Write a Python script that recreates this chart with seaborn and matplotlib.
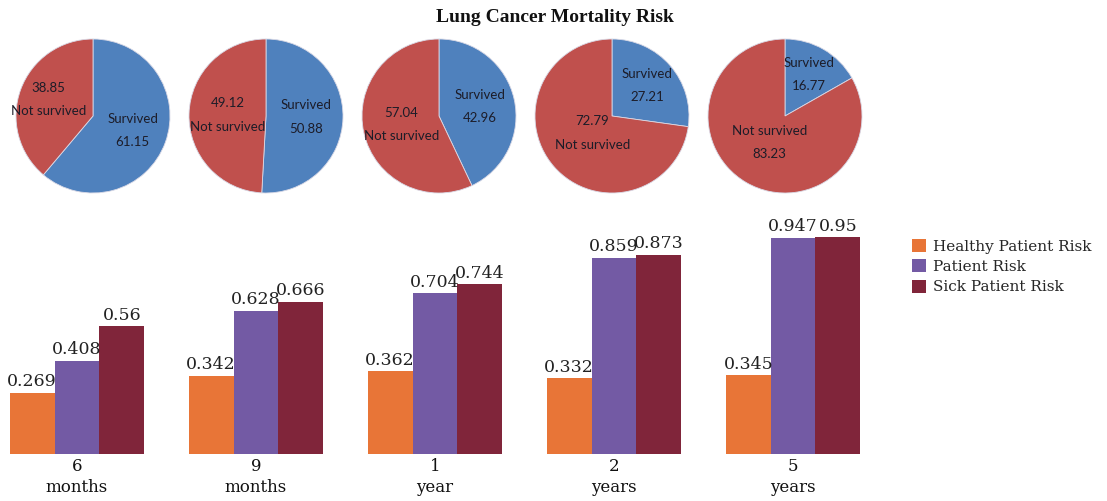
import numpy as np
import pandas as pd
import matplotlib
matplotlib.use("Agg")
import matplotlib.pyplot as plt
import seaborn as sns

# ---- data ----
periods = ["6\nmonths", "9\nmonths", "1\nyear", "2\nyears", "5\nyears"]
survived = [61.15, 50.88, 42.96, 27.21, 16.77]
not_survived = [38.85, 49.12, 57.04, 72.79, 83.23]

risk_series = ["Healthy Patient Risk", "Patient Risk", "Sick Patient Risk"]
healthy_risk = [0.269, 0.342, 0.362, 0.332, 0.345]
patient_risk = [0.408, 0.628, 0.704, 0.859, 0.947]
sick_risk = [0.56, 0.666, 0.744, 0.873, 0.95]

# ---- styling ----
sns.set_theme(style="white")
plt.rcParams["font.family"] = ["DejaVu Serif"]

PIE_BLUE = "#4F81BD"
PIE_RED = "#C0504D"
BAR_COLORS = ["#E87537", "#735AA4", "#80253A"]
TEXT_DARK = "#1c1c28"

W, H = 1107, 501
fig = plt.figure(figsize=(W / 100, H / 100), dpi=100)

fig.text(0.501, 1 - 18 / H, "Lung Cancer Mortality Risk", ha="center", va="center",
         fontsize=14, fontweight="bold", family="Liberation Serif", color="#111111")

# ---- pies ----
pie_cx = [93, 266, 439, 612, 785]
pie_cy, pie_r = 116, 77
# radial position of the two labels (survived, not survived) for each pie
label_dist = [(0.55, 0.62), (0.52, 0.5), (0.55, 0.5), (0.6, 0.34), (0.62, 0.4)]
value_first = [True, True, True, True, False]

for i, cx in enumerate(pie_cx):
    ax = fig.add_axes([(cx - pie_r) / W, (H - pie_cy - pie_r) / H,
                       2 * pie_r / W, 2 * pie_r / H])
    wedges, _ = ax.pie([survived[i], not_survived[i]], colors=[PIE_BLUE, PIE_RED],
                       startangle=90, counterclock=False,
                       wedgeprops=dict(edgecolor="#d9d9e6", linewidth=0.6))
    ax.set_xlim(-1, 1)
    ax.set_ylim(-1, 1)
    labels = [f"Survived\n{survived[i]:.2f}",
              (f"{not_survived[i]:.2f}\nNot survived" if value_first[i]
               else f"Not survived\n{not_survived[i]:.2f}")]
    for w, lab, d in zip(wedges, labels, label_dist[i]):
        mid = np.deg2rad((w.theta1 + w.theta2) / 2)
        ax.text(d * np.cos(mid), d * np.sin(mid), lab, ha="center", va="center",
                fontsize=9.5, family="Lato", color=TEXT_DARK, linespacing=2.15)

# ---- grouped bars ----
df = pd.DataFrame({
    "period": periods * 3,
    "series": np.repeat(risk_series, len(periods)),
    "risk": healthy_risk + patient_risk + sick_risk,
})

base_y = 454
px_per_unit = 228
bax = fig.add_axes([0.0, (H - base_y) / H, 870 / W, px_per_unit / H])
sns.barplot(data=df, x="period", y="risk", hue="series", palette=BAR_COLORS,
            saturation=1, width=0.75, gap=0, ax=bax, legend=True, linewidth=0,
            order=periods, hue_order=risk_series)
bax.set_xlim(-0.43, 4.43)
bax.set_ylim(0, 1.0)
for cont in bax.containers:
    bax.bar_label(cont, labels=[f"{v:g}" for v in cont.datavalues], padding=2,
                  fontsize=12.5, color="#222222")
for s in bax.spines.values():
    s.set_visible(False)
bax.set_xlabel("")
bax.set_ylabel("")
bax.set_yticks([])
bax.tick_params(axis="x", length=0, pad=3, labelsize=12, labelcolor="#111111")
for t in bax.get_xticklabels():
    t.set_linespacing(1.3)

handles, labs = bax.get_legend_handles_labels()
bax.legend(handles, labs, loc="upper left",
           bbox_to_anchor=(912 / W, 1 - 239 / H), bbox_transform=fig.transFigure,
           frameon=False, borderpad=0, borderaxespad=0, handlelength=0.9,
           handleheight=0.9, handletextpad=0.45, labelspacing=0.38, fontsize=11)

fig.savefig("out.png", dpi=100)
